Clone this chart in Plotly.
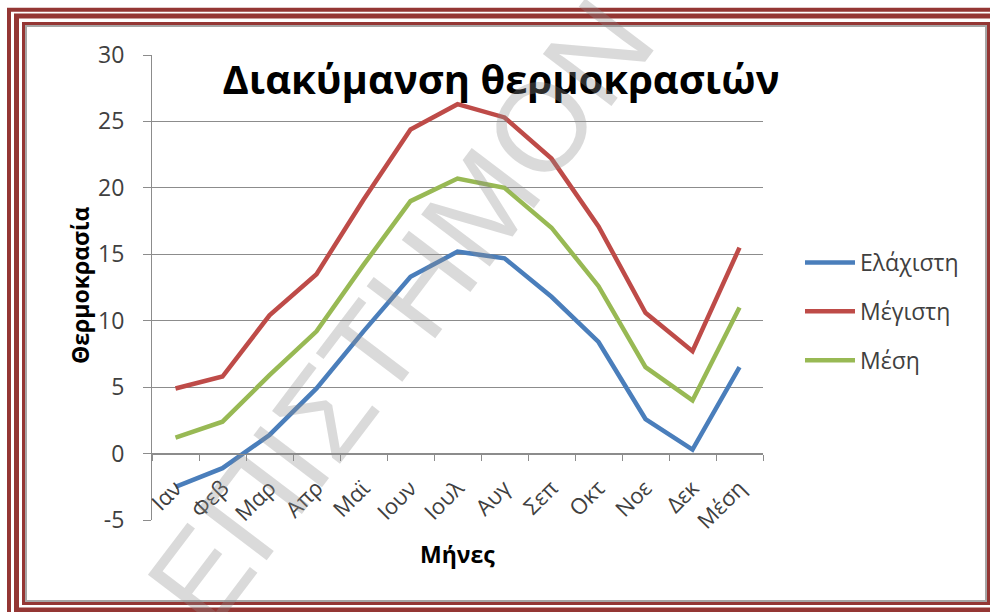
import plotly.graph_objects as go

months = ["Ιαν", "Φεβ", "Μαρ", "Απρ", "Μαϊ", "Ιουν", "Ιουλ", "Αυγ", "Σεπ", "Οκτ", "Νοε", "Δεκ", "Μέση"]
t_min = [-2.5, -1.1, 1.4, 4.9, 9.2, 13.3, 15.2, 14.7, 11.8, 8.4, 2.6, 0.3, 6.5]
t_max = [4.9, 5.8, 10.4, 13.5, 19.1, 24.4, 26.3, 25.3, 22.2, 17.1, 10.6, 7.7, 15.5]
t_avg = [1.2, 2.4, 5.9, 9.2, 14.2, 19.0, 20.7, 20.0, 17.0, 12.6, 6.5, 4.0, 11.0]
series_names = ["Ελάχιστη", "Μέγιστη", "Μέση"]
series_colors = ["#4A7EBB", "#BE4B48", "#98B954"]
y_ticks = [-5, 0, 5, 10, 15, 20, 25, 30]
y_tick_labels = ["-5", "0", "5", "10", "15", "20", "25", "30"]

W, H = 990, 612
PL, PR, PT, PB = 152, 763, 55, 520  # plot area in pixels
PW, PH = PR - PL, PB - PT


def px(x):
    return (x - PL) / PW


def py(y):
    return (PB - y) / PH


FONT = "Open Sans, Noto Sans, sans-serif"
GRID = "#8C8C8C"
TEXT = "#404040"
BORDER = "#943634"

fig = go.Figure()
for name, vals, col in zip(series_names, [t_min, t_max, t_avg], series_colors):
    fig.add_trace(go.Scatter(
        x=months, y=vals, name=name, mode="lines",
        line=dict(color=col, width=4.5), legendgroup=name,
    ))

shapes = []
shapes.append(dict(type="rect", xref="paper", yref="paper",
                   x0=px(26), x1=px(986), y0=py(26), y1=py(601),
                   line=dict(color="#A6A6A6", width=2), fillcolor="rgba(0,0,0,0)"))
shapes.append(dict(type="rect", xref="paper", yref="paper",
                   x0=px(23.5), x1=px(988.5), y0=py(23.5), y1=py(603.5),
                   line=dict(color=BORDER, width=3), fillcolor="rgba(0,0,0,0)"))
shapes.append(dict(type="rect", xref="paper", yref="paper",
                   x0=px(16.5), x1=px(997), y0=py(16), y1=py(610),
                   line=dict(color=BORDER, width=5), fillcolor="rgba(0,0,0,0)"))
shapes.append(dict(type="rect", xref="paper", yref="paper",
                   x0=px(9), x1=px(1005), y0=py(9.8), y1=py(622),
                   line=dict(color=BORDER, width=4), fillcolor="rgba(0,0,0,0)"))

annotations = [
    dict(text="Θερμοκρασία", xref="paper", yref="paper", x=px(80), y=py(286),
         textangle=-90, showarrow=False, xanchor="center", yanchor="middle",
         font=dict(family=FONT, size=23, color="#000000", weight="bold")),
    dict(text="Μήνες", xref="paper", yref="paper", x=px(457), y=py(554),
         showarrow=False, xanchor="center", yanchor="middle",
         font=dict(family=FONT, size=23, color="#000000", weight="bold")),
    dict(text="ΕΠΙΣΤΗΜΟΝ", xref="paper", yref="paper", x=px(400), y=py(312),
         textangle=-52.8, showarrow=False, xanchor="center", yanchor="middle",
         font=dict(family="Liberation Sans, Arial, sans-serif", size=125,
                   color="rgba(140,140,140,0.32)")),
]

fig.update_layout(
    width=W, height=H,
    margin=dict(l=PL, r=W - PR, t=PT, b=H - PB, pad=0),
    paper_bgcolor="white", plot_bgcolor="white",
    font=dict(family=FONT, color=TEXT),
    title=dict(text="<b>Διακύμανση θερμοκρασιών</b>", xref="paper", yref="paper",
               x=px(501), y=py(80), xanchor="center", yanchor="middle",
               font=dict(family=FONT, size=40, color="#000000")),
    xaxis=dict(type="category", categoryorder="array", categoryarray=months,
               range=[-0.5, len(months) - 0.5],
               anchor="free", position=5 / 35,
               showline=True, linecolor=GRID, linewidth=1,
               ticks="outside", tickson="boundaries", ticklen=6, tickcolor=GRID,
               tickangle=-45, showgrid=False, zeroline=False, ticklabelstandoff=12,
               tickfont=dict(family=FONT, size=22, color=TEXT)),
    yaxis=dict(range=[-5, 30], tickvals=y_ticks, ticktext=y_tick_labels,
               showgrid=True, gridcolor=GRID,
               gridwidth=1, zeroline=False, showline=True, linecolor=GRID,
               ticks="outside", ticklen=8, tickcolor=GRID, ticklabelstandoff=14,
               tickfont=dict(family=FONT, size=23, color=TEXT)),
    legend=dict(x=px(800), y=py(241), xanchor="left", yanchor="top",
                tracegroupgap=16, bgcolor="rgba(0,0,0,0)", itemwidth=50,
                font=dict(family=FONT, size=23, color=TEXT)),
    shapes=shapes,
    annotations=annotations,
)

fig.write_html("out.html", config={"displayModeBar": False},
               post_script="document.body.style.margin='0';")
